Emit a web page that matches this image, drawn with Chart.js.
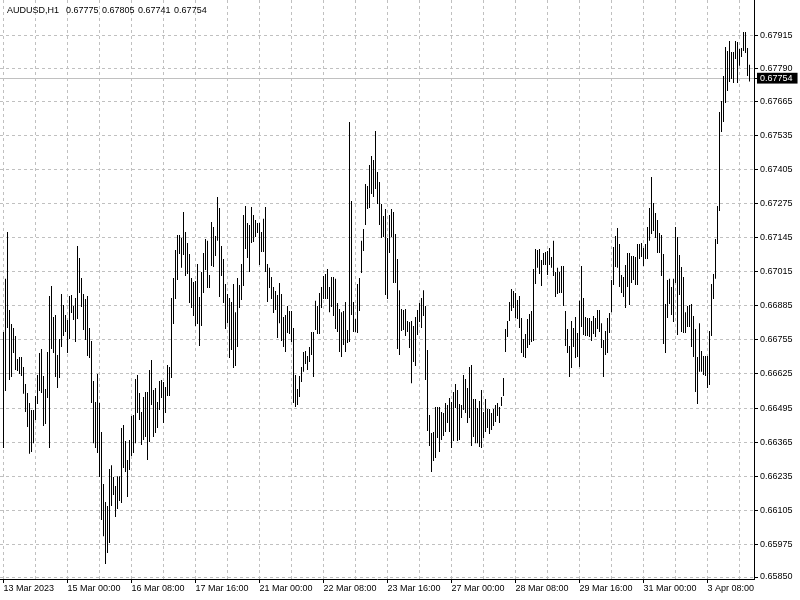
<!DOCTYPE html>
<html>
<head>
<meta charset="utf-8">
<script src="https://cdn.jsdelivr.net/npm/chart.js@4.4.1/dist/chart.umd.min.js"></script>
<style>
html,body{margin:0;padding:0;background:#fff;overflow:hidden;}
#wrap{position:relative;width:800px;height:600px;}
#c{display:block;}
#hdr{position:absolute;left:7px;top:5px;font-family:'Liberation Sans',Arial,sans-serif;font-size:9px;line-height:11px;color:#000;white-space:pre;word-spacing:1px;}
</style>
</head>
<body>
<div id="wrap"><canvas id="c" width="800" height="600"></canvas><div id="hdr"></div></div>
<script>
const symbol = 'AUDUSD,H1';
const lastBar = [0.67775, 0.67805, 0.67741, 0.67754]; // open, high, low, close
const lastPrice = lastBar[3];

const xLabelIndex = [0, 32, 64, 96, 128, 160, 192, 224, 256, 288, 320, 352];
const xLabels = ['13 Mar 2023', '15 Mar 00:00', '16 Mar 08:00', '17 Mar 16:00', '21 Mar 00:00', '22 Mar 08:00',
  '23 Mar 16:00', '27 Mar 00:00', '28 Mar 08:00', '29 Mar 16:00', '31 Mar 00:00', '3 Apr 08:00'];
const xGridIndex = [0, 16, 32, 48, 64, 80, 96, 112, 128, 144, 160, 176, 192, 208, 224, 240, 256, 272, 288, 304, 320, 336, 352, 368];

const yTickValues = [0.65850, 0.65975, 0.66105, 0.66235, 0.66365, 0.66495, 0.66625, 0.66755, 0.66885,
  0.67015, 0.67145, 0.67275, 0.67405, 0.67535, 0.67665, 0.67790, 0.67915];

const highs = [
0.66785,0.66988,0.67167,0.66869,0.66816,0.66800,0.66770,0.66682,0.66690,0.66690,
0.66652,0.66587,0.66552,0.66514,0.66487,0.66487,0.66541,0.66621,0.66705,0.66720,
0.66617,0.66568,0.66709,0.66923,0.66961,0.66842,0.66850,0.66697,0.66758,0.66930,
0.66888,0.66850,0.66831,0.66923,0.66926,0.66884,0.66915,0.67113,0.67068,0.66991,
0.66930,0.66911,0.66923,0.66800,0.66751,0.66598,0.66518,0.66625,0.66514,0.66403,
0.66205,0.66136,0.66121,0.66262,0.66277,0.66232,0.66197,0.66235,0.66235,0.66419,
0.66430,0.66369,0.66297,0.66373,0.66465,0.66468,0.66606,0.66621,0.66552,0.66480,
0.66537,0.66556,0.66556,0.66640,0.66678,0.66564,0.66571,0.66518,0.66598,0.66602,
0.66594,0.66575,0.66659,0.66652,0.66915,0.66991,0.67098,0.67155,0.67155,0.67144,
0.67243,0.67167,0.67125,0.67083,0.66991,0.66976,0.66980,0.67045,0.66919,0.67014,
0.67087,0.67140,0.67133,0.67003,0.67205,0.67186,0.67152,0.67300,0.67258,0.67113,
0.67064,0.66968,0.66930,0.66915,0.66900,0.66968,0.66861,0.66991,0.66965,0.67045,
0.67232,0.67266,0.67201,0.67194,0.67262,0.67232,0.67213,0.67201,0.67201,0.67167,
0.67217,0.67262,0.67045,0.67030,0.66995,0.66957,0.66942,0.66926,0.66972,0.66930,
0.66842,0.66850,0.66884,0.66865,0.66865,0.66800,0.66621,0.66568,0.66617,0.66652,
0.66709,0.66713,0.66694,0.66728,0.66785,0.66785,0.66904,0.66884,0.66934,0.66957,
0.66999,0.67007,0.67026,0.66957,0.66995,0.66995,0.66988,0.66896,0.66873,0.66861,
0.66865,0.66900,0.66793,0.67587,0.67285,0.66900,0.66835,0.66968,0.66991,0.67133,
0.67178,0.67350,0.67342,0.67423,0.67457,0.67442,0.67552,0.67396,0.67358,0.67274,
0.67228,0.67255,0.67144,0.67232,0.67255,0.67243,0.67159,0.67064,0.66945,0.66873,
0.66869,0.66873,0.66827,0.66823,0.66827,0.66808,0.66842,0.66869,0.66896,0.66915,
0.66945,0.66884,0.66716,0.66468,0.66400,0.66403,0.66499,0.66499,0.66499,0.66480,
0.66476,0.66514,0.66507,0.66533,0.66518,0.66556,0.66587,0.66564,0.66510,0.66507,
0.66621,0.66606,0.66571,0.66652,0.66659,0.66529,0.66529,0.66495,0.66522,0.66564,
0.66480,0.66529,0.66491,0.66491,0.66476,0.66491,0.66507,0.66514,0.66499,0.66537,
0.66610,0.66797,0.66827,0.66900,0.66949,0.66942,0.66934,0.66907,0.66923,0.66839,
0.66758,0.66778,0.66835,0.66854,0.66865,0.67026,0.67102,0.67098,0.67102,0.67060,
0.67087,0.67091,0.67094,0.67106,0.67071,0.67133,0.67014,0.67030,0.67014,0.67037,
0.67037,0.66865,0.66797,0.66732,0.66827,0.66800,0.66842,0.66781,0.66904,0.67037,
0.66915,0.66842,0.66839,0.66839,0.66827,0.66846,0.66839,0.66869,0.66869,0.66819,
0.66755,0.66789,0.66839,0.66858,0.66984,0.67110,0.67152,0.67182,0.67121,0.67003,
0.66995,0.67041,0.67087,0.67087,0.67075,0.67075,0.67071,0.67121,0.67121,0.67125,
0.67106,0.67121,0.67186,0.67258,0.67377,0.67278,0.67239,0.67213,0.67163,0.67155,
0.67083,0.66892,0.66984,0.66988,0.66957,0.66988,0.67186,0.67148,0.67079,0.67033,
0.66995,0.66861,0.66884,0.66888,0.66892,0.66846,0.66797,0.66690,0.66819,0.66713,
0.66694,0.66694,0.66694,0.66789,0.66968,0.67007,0.67140,0.67266,0.67625,0.67667,
0.67762,0.67873,0.67858,0.67896,0.67854,0.67854,0.67896,0.67892,0.67865,0.67869,
0.67930,0.67930,0.67869,0.67805
];

const lows = [
0.66342,0.66560,0.66800,0.66602,0.66613,0.66705,0.66640,0.66636,0.66625,0.66617,
0.66549,0.66480,0.66423,0.66320,0.66327,0.66361,0.66449,0.66510,0.66560,0.66552,
0.66426,0.66434,0.66533,0.66342,0.66720,0.66705,0.66613,0.66571,0.66610,0.66728,
0.66770,0.66785,0.66705,0.66758,0.66858,0.66831,0.66747,0.66835,0.66934,0.66881,
0.66793,0.66755,0.66694,0.66686,0.66514,0.66361,0.66342,0.66323,0.66232,0.66068,
0.66006,0.65900,0.65942,0.65980,0.66121,0.66163,0.66079,0.66110,0.66140,0.66132,
0.66266,0.66251,0.66155,0.66258,0.66312,0.66323,0.66361,0.66476,0.66449,0.66354,
0.66373,0.66384,0.66297,0.66365,0.66507,0.66384,0.66400,0.66419,0.66487,0.66533,
0.66438,0.66476,0.66541,0.66541,0.66610,0.66816,0.66911,0.66984,0.67083,0.67030,
0.67079,0.66999,0.67007,0.66896,0.66877,0.66846,0.66808,0.66816,0.66732,0.66808,
0.66934,0.67022,0.66953,0.66953,0.67037,0.67033,0.67075,0.67133,0.66919,0.66999,
0.66896,0.66797,0.66819,0.66686,0.66716,0.66648,0.66655,0.66728,0.66877,0.66907,
0.66961,0.67102,0.67068,0.67014,0.67125,0.67129,0.67148,0.67163,0.67041,0.67091,
0.67091,0.67014,0.66900,0.66953,0.66911,0.66858,0.66869,0.66762,0.66819,0.66751,
0.66728,0.66709,0.66781,0.66778,0.66747,0.66514,0.66499,0.66507,0.66537,0.66594,
0.66633,0.66663,0.66640,0.66671,0.66697,0.66613,0.66793,0.66778,0.66778,0.66877,
0.66911,0.66911,0.66911,0.66861,0.66881,0.66846,0.66797,0.66785,0.66709,0.66690,
0.66736,0.66709,0.66743,0.66747,0.66850,0.66785,0.66785,0.66781,0.66865,0.67010,
0.67094,0.67194,0.67255,0.67258,0.67312,0.67300,0.67331,0.67274,0.67194,0.67144,
0.67148,0.66926,0.66911,0.67087,0.67148,0.66972,0.66972,0.66720,0.66697,0.66789,
0.66793,0.66770,0.66785,0.66724,0.66590,0.66671,0.66655,0.66774,0.66823,0.66800,
0.66846,0.66602,0.66407,0.66350,0.66251,0.66293,0.66304,0.66381,0.66327,0.66373,
0.66388,0.66403,0.66438,0.66403,0.66342,0.66369,0.66495,0.66369,0.66373,0.66457,
0.66487,0.66476,0.66438,0.66457,0.66350,0.66384,0.66361,0.66361,0.66346,0.66342,
0.66381,0.66403,0.66419,0.66396,0.66411,0.66426,0.66442,0.66465,0.66438,0.66503,
0.66541,0.66709,0.66766,0.66827,0.66865,0.66877,0.66839,0.66835,0.66800,0.66705,
0.66690,0.66686,0.66724,0.66736,0.66747,0.66751,0.66968,0.67030,0.67007,0.66961,
0.67041,0.67041,0.67003,0.67041,0.67030,0.66999,0.66919,0.66930,0.66934,0.66934,
0.66884,0.66732,0.66705,0.66613,0.66648,0.66728,0.66686,0.66690,0.66652,0.66804,
0.66774,0.66770,0.66770,0.66766,0.66751,0.66778,0.66766,0.66797,0.66785,0.66724,
0.66613,0.66697,0.66705,0.66781,0.66861,0.66965,0.67033,0.67030,0.66957,0.66934,
0.66919,0.66877,0.66957,0.66888,0.66972,0.66984,0.66965,0.66965,0.67064,0.67071,
0.67037,0.67064,0.67064,0.67133,0.67159,0.67171,0.67144,0.67087,0.67087,0.66999,
0.66739,0.66705,0.66839,0.66892,0.66850,0.66823,0.66972,0.66774,0.66926,0.66785,
0.66781,0.66781,0.66804,0.66804,0.66728,0.66690,0.66556,0.66510,0.66633,0.66633,
0.66621,0.66617,0.66571,0.66583,0.66770,0.66911,0.66988,0.67121,0.67247,0.67549,
0.67587,0.67659,0.67705,0.67739,0.67751,0.67736,0.67827,0.67736,0.67801,0.67835,
0.67858,0.67850,0.67762,0.67741
];

document.getElementById('hdr').textContent =
  symbol + '  ' + lastBar.map(v => v.toFixed(5)).join(' ');

const FONT = {family: "'Liberation Sans', Arial, sans-serif", size: 9};
const GRID = '#c0c0c0';

const barData = highs.map((h, i) => ({x: i, y: [lows[i], h]}));

new Chart(document.getElementById('c'), {
  type: 'bar',
  data: {
    datasets: [{
      data: barData,
      backgroundColor: '#000000',
      borderWidth: 0,
      barThickness: 1,
      inflateAmount: 0
    }]
  },
  options: {
    responsive: false,
    animation: false,
    events: [],
    layout: {padding: 0},
    plugins: {legend: {display: false}, tooltip: {enabled: false}, title: {display: false}},
    scales: {
      x: {
        type: 'linear',
        position: 'bottom',
        min: -1.75,
        max: 375.25,
        offset: false,
        afterBuildTicks: s => { s.ticks = xGridIndex.map(v => ({value: v})); },
        afterFit: s => { s.height = 21; s.paddingLeft = 0; s.paddingRight = 0; },
        grid: {
          color: GRID, lineWidth: 1, offset: false, drawTicks: true, tickLength: 4,
          tickColor: c => (c.tick && xLabelIndex.includes(c.tick.value)) ? '#000000' : 'rgba(0,0,0,0)'
        },
        border: {display: true, color: '#000000', width: 1, dash: [3, 3]},
        ticks: {
          autoSkip: false, maxRotation: 0, minRotation: 0, align: 'start', padding: 0,
          color: '#000000', font: FONT,
          callback: v => { const k = xLabelIndex.indexOf(v); return k >= 0 ? xLabels[k] : ''; }
        }
      },
      y: {
        type: 'linear',
        position: 'right',
        min: 0.6584237,
        max: 0.6805241,
        afterBuildTicks: s => { s.ticks = yTickValues.concat([lastPrice]).map(v => ({value: v})); },
        afterFit: s => { s.width = 46; s.paddingTop = 0; s.paddingBottom = 0; },
        grid: {color: GRID, lineWidth: 1, drawTicks: true, tickLength: 4, tickColor: '#000000'},
        border: {
          display: true, color: '#000000', width: 1,
          dash: c => (c.tick && c.tick.value === lastPrice) ? [] : [3, 3]
        },
        ticks: {
          autoSkip: false, padding: 2, font: FONT,
          color: c => (c.tick && c.tick.value === lastPrice) ? '#ffffff' : '#000000',
          showLabelBackdrop: c => !!(c.tick && c.tick.value === lastPrice),
          backdropColor: '#000000',
          backdropPadding: {top: 0, bottom: 0, left: 3, right: 5},
          callback: v => Number(v).toFixed(5)
        }
      }
    }
  }
});
</script>
</body>
</html>
